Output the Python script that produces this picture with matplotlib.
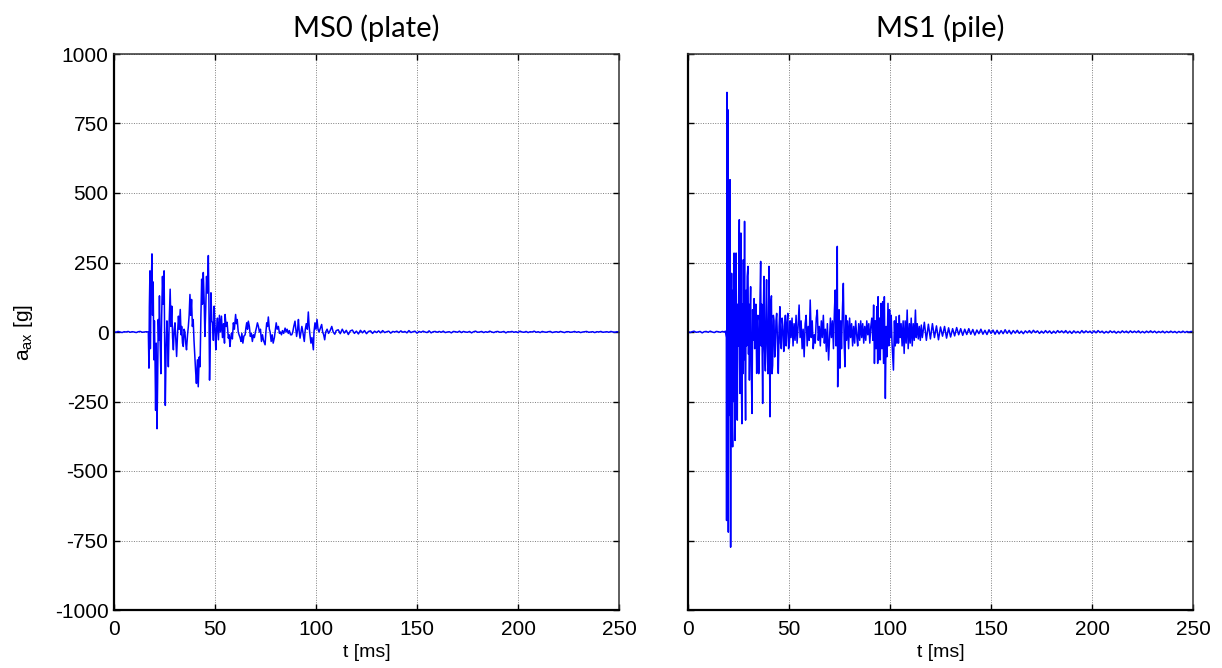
import numpy as np
import matplotlib
matplotlib.use('Agg')
import matplotlib.pyplot as plt

plt.rcParams['font.family'] = ['Liberation Sans', 'DejaVu Sans']
plt.rcParams['mathtext.fontset'] = 'custom'
plt.rcParams['mathtext.rm'] = 'Liberation Sans'
plt.rcParams['mathtext.it'] = 'Liberation Sans'
plt.rcParams['axes.unicode_minus'] = False

# ---------------------------------------------------------------------------
# Data (t in ms, acceleration in g)
# ---------------------------------------------------------------------------

titles = ['MS0 (plate)', 'MS1 (pile)']
x_ticks = [0, 50, 100, 150, 200, 250]
y_ticks = [-1000, -750, -500, -250, 0, 250, 500, 750, 1000]

# MS0 -- before trigger, 1 ms steps
ms0_pre_t = np.arange(0, 17, 1.0)
ms0_pre_a = [1, -1, 2, 0, -2, 1, 0, 2, -1, 1, 0, -2, 1, 2, -1, 0, 1]

# MS0 -- impact and ringing
ms0_t = [17.0, 17.3, 17.5, 17.8, 18.0, 18.3, 18.8, 19.1, 19.4, 19.7, 20.0,
         20.3, 20.6, 20.9, 21.3, 21.6, 21.9, 22.2, 22.5, 22.8, 23.2, 23.6,
         24.0, 24.4, 24.8, 25.1, 25.4, 25.8, 26.2, 26.5, 26.9, 27.3, 27.8,
         28.2, 28.6, 29.0, 29.4, 29.8, 30.2, 30.6, 31.0, 31.5, 31.9, 32.3,
         32.8, 33.2, 33.5, 33.9, 34.3, 34.7, 35.1, 35.5, 35.9, 36.4, 36.8,
         37.2, 37.6, 38.0, 38.4, 38.8, 39.2, 39.6, 40.0, 40.4, 40.8, 41.3,
         41.7, 42.2, 42.6, 43.0, 43.4, 43.8, 44.2, 44.6, 45.0, 45.4, 45.8,
         46.3, 46.7, 47.0, 47.3, 47.6, 48.0, 48.4, 48.8, 49.2, 49.6, 50.0,
         50.4, 50.8, 51.2, 51.7, 52.2, 52.7, 53.2, 53.7, 54.2, 54.7,
         55.0, 55.5, 56.0, 56.6, 57.0, 57.4, 57.8, 58.2, 58.6, 59.1, 59.6,
         60.2, 60.6, 61.0, 61.5, 61.9, 62.4, 62.9, 63.3, 63.8, 64.3, 64.9,
         65.3, 65.7, 66.1, 66.5, 67.0, 67.5, 68.0, 68.5, 69.0, 69.5, 70.0,
         70.5, 71.0, 71.5, 72.0, 72.5, 73.0, 73.5, 74.0, 74.8, 75.2, 75.6,
         76.0, 76.4, 76.9, 77.3, 77.8, 78.3, 78.8, 79.4, 79.9, 80.3, 80.8,
         81.4, 81.9, 82.4, 82.9, 83.4, 84.0, 84.7, 85.2, 85.7, 86.3, 86.8,
         87.4, 88.0, 88.5, 89.0, 89.6, 90.0, 90.4, 90.9, 91.3, 91.7, 92.1,
         92.6, 93.0, 93.5, 94.2, 94.7, 95.2, 95.7, 96.2, 96.6, 97.0, 97.5,
         98.0, 98.7, 99.0, 99.5, 100.0, 100.5, 101.0, 101.5, 102.0, 102.8,
         103.3, 103.8, 104.3, 104.8, 105.5, 106.2, 107.0, 107.8, 108.5,
         109.3, 110.0]
ms0_a = [0, -130, 90, 220, -60, 120, 281, 60, 180, -100, 40,
         -95, -282, -40, -348, -180, 45, -30, 130, -20, -150, 60,
         200, 100, 220, -50, -264, -60, 40, -20, -125, 30, 154,
         20, 93, -20, -64, 10, 33, -30, -88, 0, 57, 10,
         81, -10, 20, -40, -52, 10, 0, -40, -64, -10, 20,
         60, 135, 60, 117, 20, 45, -30, -88, -140, -185, -100,
         -197, -90, -125, 50, 190, 100, 214, 120, -16, 80, 200,
         140, 275, 100, -173, -60, 141, 40, 33, -30, 93, 20,
         -64, 10, 50, -28, 60, 0, 57, -20, 30, -40,
         63, 20, 35, -22, -10, -52, -20, -4, -25, 33, 10,
         63, 30, 45, 0, -10, -20, -34, -5, -40, -15, -10,
         15, 33, 10, 39, 20, -16, -5, -34, -10, -20, 0,
         15, 33, 20, 0, 10, -34, -10, -30, -46, 0, 33,
         20, 54, 10, 0, -34, -10, -40, -20, 10, 33, 10,
         20, -5, 0, -10, 5, -5, 14, 0, 10, -5, 5,
         -10, -10, 0, 20, 39, 10, -16, 10, 45, 0, -22,
         0, 20, 0, -34, 10, 30, 10, 72, 20, -10, -40,
         -20, -64, 0, 33, 10, 45, 10, 0, 10, 27,
         0, -10, -28, 0, 10, -5, 5, 20, 0,
         -8, 5]

# MS0 -- decaying tail, 1 ms steps
ms0_tail_t = np.arange(111, 251, 1.0)
ms0_tail_a = [8, -6, 10, -4, 6, -9, 4, 7, -5, 3, -7, 6, -3, 5, -6, 2, 4, -5, 3, -2,
              4, -3, 5, -2, 1, 3, -4, 2, 0, 3, -2, 4, -1, 2, -3, 5, -2, 1, 3, -4,
              2, -1, 3, 0, -2, 4, -3, 1, 2, -1,
              2, -1, 3, -2, 0, 1, -3, 2, 1, -1, 3, -2, 2, 0, -1, 2, -3, 1, 3, -1,
              0, 2, -2, 1, -1, 3, 0, -2, 1, 2, -1, 0, 2, -3, 1, 0, 2, -1, 1, -2,
              3, 0, -1, 2, -2, 1, 0, 3, -1, 1, -2, 2, 0, -1, 1, 2, -2, 0, 1, -1,
              2, 0, -2, 1, 1, -1, 0, 2, -1, 1, -2, 0, 1, 2, -1, 0, 1, -2, 1, 0,
              2, -1, 0, 1, -1, 2, 0, -1, 1, 0]

# MS1 -- before trigger, 1 ms steps
ms1_pre_t = np.arange(0, 18, 1.0)
ms1_pre_a = [2, -2, 1, 3, -1, 0, 2, -3, 1, 2, -1, 3, 0, -2, 2, 1, -1, 2]

# MS1 -- impact and ringing
ms1_t = [18.0, 18.5, 19.0, 19.1, 19.3, 19.5, 19.7, 19.97, 20.2, 20.5, 20.65,
         20.8, 20.95, 21.1, 21.3, 21.6, 21.8, 22.1, 22.3, 22.5, 22.8, 23.0,
         23.3, 23.55, 23.8, 24.1, 24.4, 24.65, 24.9, 25.15, 25.4, 25.55,
         25.7, 25.95, 26.2, 26.45, 26.7, 26.95, 27.2, 27.4, 27.7, 28.0,
         28.25, 28.5, 28.75, 29.0, 29.3, 29.7, 29.95, 30.2, 30.4, 30.7,
         31.0, 31.3, 31.7, 32.0, 32.3, 32.7, 33.0, 33.2, 33.6, 34.0, 34.3,
         34.6, 35.0, 35.3, 35.6, 35.97, 36.2, 36.5, 36.75, 36.96, 37.25,
         37.6, 37.9, 38.3, 38.6, 38.9, 39.2, 39.6, 39.85, 40.1, 40.35,
         40.6, 40.95, 41.3, 41.6, 41.9, 42.25, 42.6, 42.9, 43.2, 43.55,
         43.9, 44.3, 44.7, 45.1, 45.5, 45.8, 46.2, 46.6, 47.0, 47.4, 47.8,
         48.2, 48.6, 49.0, 49.4, 49.8, 50.2, 50.6, 51.0, 51.5, 52.0, 52.5,
         53.0, 53.5, 54.0, 54.5, 55.0, 55.5, 56.0, 56.5, 57.0, 57.5, 58.0,
         58.5, 59.0, 59.5, 60.0, 60.5, 61.0, 61.5, 62.0, 62.5, 63.0, 63.5,
         64.0, 64.5, 65.0, 65.5, 66.0, 66.5, 67.0, 67.5, 68.0, 68.5, 69.0,
         69.6, 70.0, 70.5, 71.0, 71.5, 72.0, 72.5, 72.9, 73.3, 73.7, 73.9,
         74.1, 74.4, 74.8, 75.2, 75.6, 76.0, 76.5, 76.9, 77.3, 77.7, 78.1,
         78.5, 79.0, 79.5, 80.0, 80.5, 81.0, 81.5, 82.0, 82.5, 83.0, 83.5,
         84.0, 84.5, 85.0, 85.5, 86.0, 86.5, 87.0, 87.5, 88.0, 88.5, 89.0,
         89.5, 90.0, 90.5, 91.0, 91.5, 91.9, 92.3, 92.7, 93.1, 93.5, 93.9,
         94.1, 94.4, 94.8, 95.2, 95.6, 96.0, 96.4, 96.8, 97.2, 97.7, 98.1,
         98.5, 99.0, 99.4, 99.8, 100.2, 100.6, 101.0, 101.7, 102.2, 102.6,
         103.0, 103.4, 103.8, 104.2, 104.6, 105.0, 105.5, 106.0, 106.5,
         107.0, 107.5, 108.0, 108.5, 109.0, 109.6, 110.0, 110.5, 111.0,
         111.5, 112.0, 112.6, 113.0, 113.5, 114.0, 114.5, 115.0, 115.5,
         116.0]
ms1_a = [0, 3, -20, -678, 862, -150, 800, -720, 300, 452, -300,
         548, -200, -774, -100, 211, -300, -413, 150, -250, 284, -100,
         -390, 200, 284, -150, -317, 100, -50, 200, 404, -100,
         -221, 150, 356, -200, -330, 100, -150, 260, -100, 398,
         -100, -317, 150, -50, 200, 236, -80, 100, -173, 60,
         163, -120, -293, 80, -30, 120, -60, -20, 100, -149, 40,
         60, -150, -80, 100, 254, -50, 100, -100, -257, 50,
         200, -60, -140, 80, 188, -50, -150, 60, 236, -80,
         -305, 100, 130, -150, -120, 60, 40, -90, -70, 40,
         67, -30, -149, 20, 91, -40, -60, 50, 20, -70, 0,
         60, -50, 30, 67, -60, -40, 40, -20, 50, -50, 30,
         -30, 60, -40, 20, 97, -20, 40, -60, 10, -89, 30,
         60, -50, 20, -30, 115, -20, 40, -60, -10, -40, 50,
         79, -30, 20, -50, 40, -20, 60, -40, 10, -70, 30,
         -101, -30, 50, -20, 40, -60, 80, 151, -50, 100, 308,
         -197, -20, 80, -130, 40, -60, 90, 175, -40, -125, 60,
         -30, 40, -60, 50, -20, 30, -50, 20, -40, 40, -10,
         -50, 30, -30, 40, -20, 30, -40, 20, -30, 40, -10,
         30, -40, 20, 50, -30, 97, -113, 40, -60, 91, -113,
         127, -100, 50, -100, 103, -60, 109, -113, 127, -239, 20,
         -89, 103, -50, 80, -20, 60, -40, -137, 40, -50,
         55, -40, 30, -40, 60, -20, 30, -50, 40,
         -77, 40, -40, 79, -60, 30, -40, 50, -50,
         30, -30, 79, -20, 30, -25, 20, -30, 25,
         -20]

# MS1 -- decaying tail, 1 ms steps
ms1_tail_t = np.arange(117, 251, 1.0)
ms1_tail_a = [35, -30, 28, -25, 30, -20, 22, -28, 18, -15, 20, -22, 15, -18, 12, -14, 16, -10, 12,
              -12, 10, -9, 12, -8, 9, -11, 7, -6, 10, -8, 6, -9, 8, -5, 7, -8, 6, -7, 5, -6, 8, -5, 6, -7,
              5, -4, 6, -5, 3, -6, 4, -3, 5, -4, 6, -2, 4, -5, 3, -4, 5, -3, 4, -5,
              3, -4, 5, -2, 4, -3, 5, -4, 3, -5, 4, -3, 2, -4, 5, -3, 4, -2, 3, -4,
              4, -3, 5, -2, 3, -4, 2, -3, 4, -2, 3, -4, 2, -3, 4, -2, 3, -3, 4, -2,
              3, -2, 4, -3, 2, -3, 3, -2, 4, -2, 3, -3, 2, -2, 3, -3, 2, -2, 3, -2,
              2, -3, 2, -2, 3, -2, 2, -1, 2, 1]

series = [
    (np.concatenate([ms0_pre_t, ms0_t, ms0_tail_t]),
     np.concatenate([ms0_pre_a, ms0_a, ms0_tail_a])),
    (np.concatenate([ms1_pre_t, ms1_t, ms1_tail_t]),
     np.concatenate([ms1_pre_a, ms1_a, ms1_tail_a])),
]

# ---------------------------------------------------------------------------
# Plot
# ---------------------------------------------------------------------------

fig = plt.figure(figsize=(12.22, 6.68), dpi=100)
W, H = 1222, 668
boxes = [(114, 54, 505, 556), (688, 54, 505, 556)]

for i, ((t, a), (x0, y0, w, h)) in enumerate(zip(series, boxes)):
    ax = fig.add_axes([x0 / W, (H - y0 - h) / H, w / W, h / H])
    ax.plot(t, a, color='#0000ff', lw=1.1)
    ax.set_xlim(0, 250)
    ax.set_ylim(-1000, 1000)
    ax.set_xticks(x_ticks)
    ax.set_yticks(y_ticks)
    ax.grid(True, color='#7f7f7f', lw=0.7, linestyle=(0, (1, 1.5)))
    ax.tick_params(direction='in', length=4, width=1, top=True, right=True,
                   labelsize=15, pad=4, colors='black')
    ax.tick_params(axis='x', pad=7)
    for side in ('left', 'bottom'):
        ax.spines[side].set_linewidth(1.6)
        ax.spines[side].set_color('black')
    for side in ('top', 'right'):
        ax.spines[side].set_linewidth(1.1)
        ax.spines[side].set_color('#333333')
    ax.set_xlabel('t [ms]', fontsize=14, labelpad=4)
    ax.set_title(titles[i], fontsize=21, family=['Lato', 'DejaVu Sans'], pad=12)
    if i == 0:
        ax.set_ylabel(r'a$_{\mathrm{ax}}$ [g]', fontsize=15, labelpad=14)
    else:
        ax.set_yticklabels([])

fig.savefig('out.png', dpi=100)
